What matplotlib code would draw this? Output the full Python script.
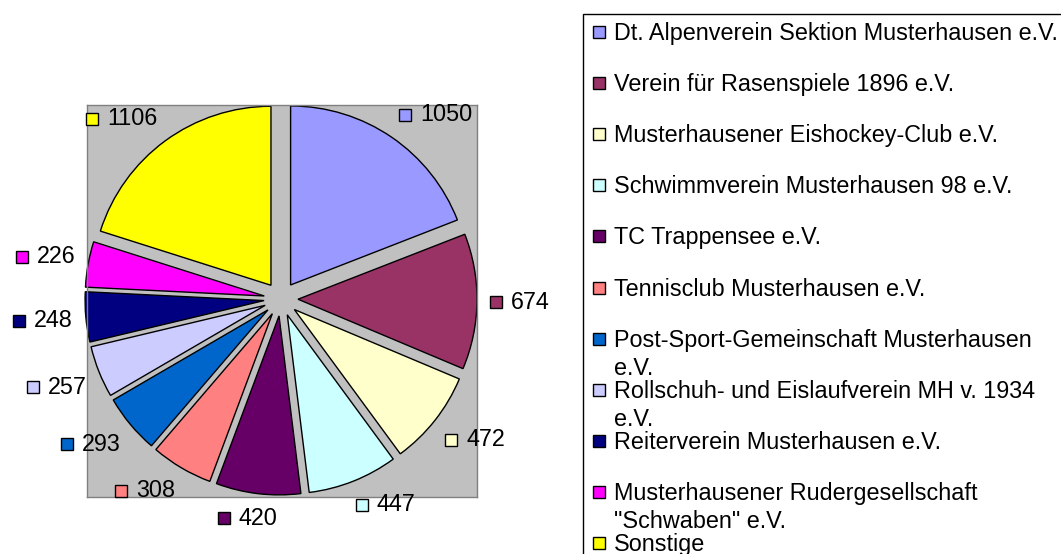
import numpy as np
import matplotlib
matplotlib.use("Agg")
import matplotlib.pyplot as plt
from matplotlib.patches import Rectangle
from matplotlib.font_manager import FontProperties
from matplotlib.offsetbox import AnnotationBbox, DrawingArea, TextArea, HPacker

plt.rcParams['font.family'] = ['Liberation Sans', 'DejaVu Sans']

vereine = [
    "Dt. Alpenverein Sektion Musterhausen e.V.",
    "Verein für Rasenspiele 1896 e.V.",
    "Musterhausener Eishockey-Club e.V.",
    "Schwimmverein Musterhausen 98 e.V.",
    "TC Trappensee e.V.",
    "Tennisclub Musterhausen e.V.",
    "Post-Sport-Gemeinschaft Musterhausen e.V.",
    "Rollschuh- und Eislaufverein MH v. 1934 e.V.",
    "Reiterverein Musterhausen e.V.",
    "Musterhausener Rudergesellschaft \"Schwaben\" e.V.",
    "Sonstige",
]
mitglieder = [1050, 674, 472, 447, 420, 308, 293, 257, 248, 226, 1106]
farben = ["#9999FF", "#993366", "#FFFFCC", "#CCFFFF", "#660066", "#FF8080",
          "#0066CC", "#CCCCFF", "#000080", "#FF00FF", "#FFFF00"]

W, H = 1061, 554
fs = 16.8
fig = plt.figure(figsize=(W / 100, H / 100), dpi=100)
fig.patch.set_facecolor("white")

# grey plot area in pixels
x0, y0, x1, y1 = 87, 105, 477, 497
cx, cy, R = 281, 299, 179.0
ax = fig.add_axes([x0 / W, 1 - y1 / H, (x1 - x0) / W, (y1 - y0) / H])

wedges, _ = ax.pie(mitglieder, colors=farben, startangle=90, counterclock=False,
                   explode=[0.095] * len(mitglieder),
                   wedgeprops=dict(edgecolor="black", linewidth=1))
ax.set_xlim(-(cx - x0) / R, (x1 - cx) / R)
ax.set_ylim(-(y1 - cy) / R, (cy - y0) / R)
ax.set_aspect("auto")
ax.set_frame_on(True)
ax.set_facecolor("#C0C0C0")
for s in ax.spines.values():
    s.set_color("#808080")
    s.set_linewidth(1)
ax.set_xticks([])
ax.set_yticks([])

# value labels: colour square + number
px2pt = 72 / 100
for w, v, c in zip(wedges, mitglieder, farben):
    ang = np.deg2rad((w.theta1 + w.theta2) / 2)
    ca, sa = np.cos(ang), np.sin(ang)
    px, py = 1.168 * ca, 1.168 * sa
    fx = np.clip(2.5 * ca, -1, 1)
    fy = np.clip(2.5 * sa, -1, 1)
    da = DrawingArea(12 * px2pt, 12 * px2pt, 0, 0)
    da.add_artist(Rectangle((0, 0), 12 * px2pt, 12 * px2pt, fc=c, ec="black", lw=1))
    ta = TextArea(str(v), textprops=dict(size=fs))
    box = HPacker(children=[da, ta], align="center", pad=0, sep=9 * px2pt)
    ab = AnnotationBbox(box, (px, py), xycoords="data", frameon=False, pad=0,
                        box_alignment=(0.5 - 0.5 * fx, 0.5 - 0.5 * fy),
                        annotation_clip=False)
    ax.add_artist(ab)

# legend, drawn by hand
def fx_(x):
    return x / W

def fy_(y):
    return 1 - y / H

fig.add_artist(Rectangle((fx_(583), fy_(H + 20)), fx_(W + 20 - 583), (H + 20 - 14) / H,
                         transform=fig.transFigure, fill=False, ec="black", lw=1))

renderer = fig.canvas.get_renderer()
prop = FontProperties(family=['Liberation Sans', 'DejaVu Sans'], size=fs)

def umbrechen(text, maxw):
    zeilen, akt = [], ""
    for wort in text.split(" "):
        probe = wort if not akt else akt + " " + wort
        wpx = renderer.get_text_width_height_descent(probe, prop, ismath=False)[0]
        if wpx > maxw and akt:
            zeilen.append(akt)
            akt = wort
        else:
            akt = probe
    zeilen.append(akt)
    return zeilen

row0, step, lh = 32, 51.1, 28
for i, (name, c) in enumerate(zip(vereine, farben)):
    ry = row0 + i * step
    fig.add_artist(Rectangle((fx_(593), fy_(ry + 6)), 12 / W, 12 / H,
                             transform=fig.transFigure, fc=c, ec="black", lw=1))
    for j, zeile in enumerate(umbrechen(name, 447)):
        fig.text(fx_(614), fy_(ry + 8 + j * lh), zeile, fontsize=fs,
                 ha="left", va="baseline")

fig.savefig("out.png", dpi=100, facecolor="white")
